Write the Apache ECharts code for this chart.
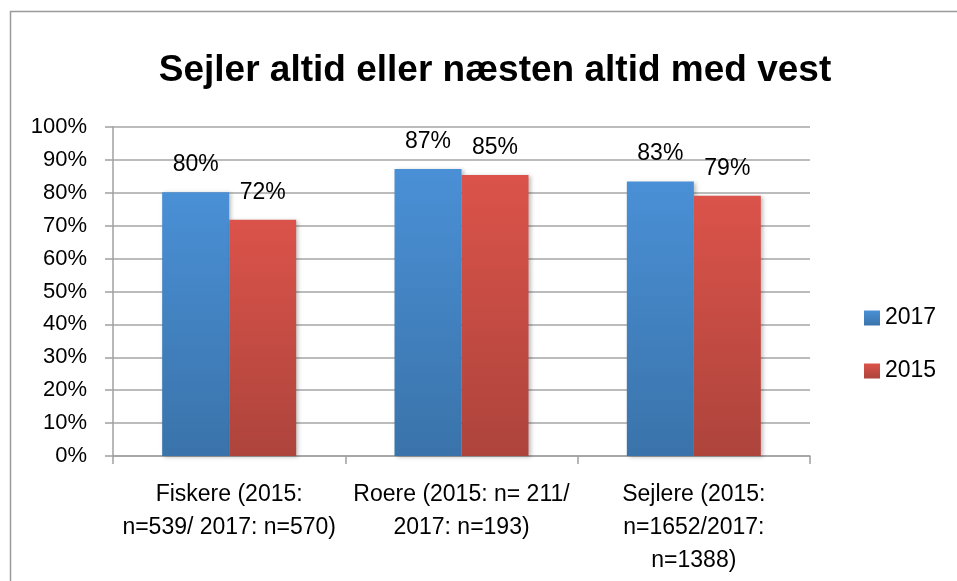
<!DOCTYPE html>
<html>
<head>
<meta charset="utf-8">
<script src="https://cdn.jsdelivr.net/npm/echarts@6/dist/echarts.min.js"></script>
<style>
  html, body { margin: 0; padding: 0; background: #fff; }
  #chart { width: 957px; height: 581px; }
</style>
</head>
<body>
<div id="chart"></div>
<script>
var categories = [
  'Fiskere (2015:\nn=539/ 2017: n=570)',
  'Roere (2015: n= 211/\n2017: n=193)',
  'Sejlere (2015:\nn=1652/2017:\nn=1388)'
];
var vals2017 = [80.2, 87.2, 83.4];
var vals2015 = [71.8, 85.4, 79.1];
var yTicks = [0, 100, 10];

var chart = echarts.init(document.getElementById('chart'));

function grad(top, bottom) {
  return new echarts.graphic.LinearGradient(0, 0, 0, 1, [
    {offset: 0, color: top},
    {offset: 1, color: bottom}
  ]);
}

var fontFam = '"Liberation Sans", Arial, sans-serif';

var labelOpt = {
  show: true,
  position: 'top',
  distance: 16,
  color: '#000',
  fontSize: 23,
  fontFamily: fontFam,
  formatter: function (p) { return Math.round(p.value) + '%'; }
};

var barShadow = {
  shadowBlur: 4,
  shadowColor: 'rgba(0,0,0,0.25)',
  shadowOffsetX: 2,
  shadowOffsetY: 1
};

var option = {
  animation: false,
  backgroundColor: '#fff',
  title: {
    text: 'Sejler altid eller næsten altid med vest',
    left: 490,
    textAlign: 'center',
    top: 47,
    textStyle: {
      fontFamily: fontFam,
      fontWeight: 'bold',
      fontSize: 37,
      color: '#000'
    }
  },
  graphic: [{
    type: 'rect',
    shape: {x: 10.5, y: 11.5, width: 960, height: 600},
    style: {fill: 'none', stroke: '#9a9a9a', lineWidth: 1.5},
    silent: true
  }],
  legend: {
    orient: 'vertical',
    left: 859,
    top: 301,
    itemWidth: 16,
    itemHeight: 15,
    itemGap: 29,
    itemTextGap: 7,
    icon: 'rect',
    textStyle: {fontFamily: fontFam, fontSize: 23, color: '#000', lineHeight: 24},
    data: ['2017', '2015']
  },
  grid: {left: 113, right: 147, top: 127, bottom: 125, containLabel: false},
  xAxis: {
    type: 'category',
    data: categories,
    axisLine: {lineStyle: {color: '#a0a0a0', width: 1.5}},
    axisTick: {show: true, length: 8, lineStyle: {color: '#a0a0a0', width: 1.5}},
    axisLabel: {
      color: '#000',
      fontFamily: fontFam,
      fontSize: 23,
      lineHeight: 33,
      margin: 22,
      interval: 0
    }
  },
  yAxis: {
    type: 'value',
    min: yTicks[0],
    max: yTicks[1],
    interval: yTicks[2],
    axisLine: {show: true, lineStyle: {color: '#a0a0a0', width: 1.5}},
    axisTick: {show: true, length: 8, lineStyle: {color: '#a0a0a0', width: 1.5}},
    splitLine: {lineStyle: {color: '#a6a6a6', width: 1.5}},
    axisLabel: {
      color: '#000',
      fontFamily: fontFam,
      fontSize: 22,
      margin: 26,
      formatter: '{value}%'
    }
  },
  series: [
    {
      name: '2017',
      type: 'bar',
      data: vals2017,
      barWidth: 67,
      barGap: '0%',
      itemStyle: Object.assign({color: grad('#4a90d6', '#3a73aa')}, barShadow),
      label: labelOpt
    },
    {
      name: '2015',
      type: 'bar',
      data: vals2015,
      barWidth: 67,
      itemStyle: Object.assign({color: grad('#db534a', '#ad443c')}, barShadow),
      label: labelOpt
    }
  ]
};

chart.setOption(option);
</script>
</body>
</html>
